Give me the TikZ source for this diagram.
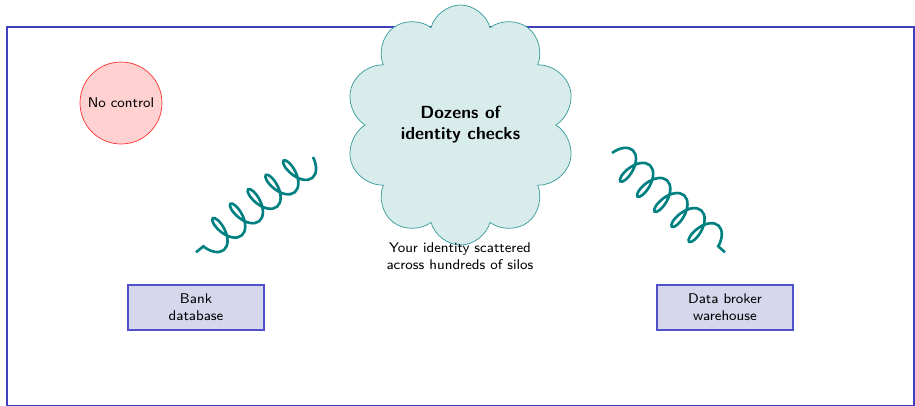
\documentclass[tikz,border=0pt]{standalone}
\usepackage{tikz}
\usetikzlibrary{positioning,shapes.symbols,decorations.pathmorphing}
\definecolor{framecol}{RGB}{64,64,190}
\definecolor{boxfill}{RGB}{214,214,236}
\definecolor{boxdraw}{RGB}{80,80,200}
\tikzset{
  silo/.style={draw=boxdraw, fill=boxfill, thick, minimum width=2.72cm, minimum height=0.9cm, align=center, font=\sffamily\footnotesize},
  bigcloud/.style={cloud, cloud puffs=10, cloud ignores aspect, draw=teal!80, fill=teal!15, minimum width=4.6cm, minimum height=4.8cm, align=center, font=\sffamily\bfseries},
  warnbubble/.style={circle, draw=red!80, fill=red!18, minimum size=1.64cm, inner sep=0pt, font=\sffamily\footnotesize},
  springlink/.style={teal, line width=1.5pt, decorate, decoration={coil, aspect=0.5, amplitude=9pt, segment length=13pt}},
  caption/.style={align=center, font=\sffamily\footnotesize}
}

\begin{document}
\begin{tikzpicture}
  \useasboundingbox (0,0) rectangle (18.3,8.1);
  \draw[framecol, line width=1.1pt] (0.14,-0.02) rectangle (18.28,7.56);
  % the silos
  \node[silo] (bank) at (3.92,1.95) {Bank\\database};
  \node[silo] (broker) at (14.5,1.95) {Data broker\\warehouse};
  \node[warnbubble] (nocontrol) at (2.42,6.04) {No control};
  \node[bigcloud] (checks) at (9.21,5.6) {Dozens of\\identity checks};
  \node[caption] (scatter) at (9.2,2.98) {Your identity scattered\\across hundreds of silos};
  % springs from the checks down to the silos
  \coordinate (bankend) at ([yshift=0.64cm]bank.north);
  \coordinate (leftend) at (6.26,4.96);
  \coordinate (brokerend) at ([yshift=0.64cm]broker.north);
  \coordinate (rightend) at (12.24,5.04);
  \draw[springlink] (leftend) -- (bankend);
  \draw[springlink] (rightend) -- (brokerend);
\end{tikzpicture}
\end{document}
